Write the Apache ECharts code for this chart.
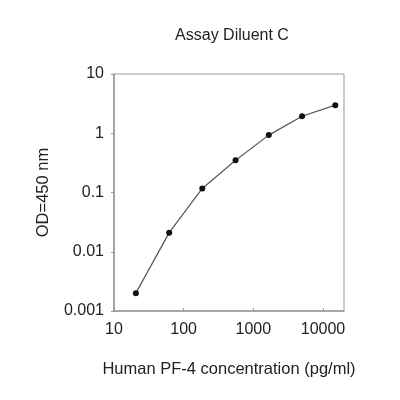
<!DOCTYPE html>
<html><head><meta charset="utf-8">
<script src="https://cdn.jsdelivr.net/npm/echarts@6/dist/echarts.min.js"></script>
<style>html,body{margin:0;padding:0;background:#fff}#c{width:400px;height:400px}</style>
</head><body><div id="c"></div>
<script>
var concentrations = [20.6, 62, 185, 556, 1667, 5000, 15000];
var odValues = [0.002, 0.021, 0.117, 0.35, 0.93, 1.94, 2.98];
var xTickLabels = ['10', '100', '1000', '10000'];
var yTickLabels = ['0.001', '0.01', '0.1', '1', '10'];

var pts = concentrations.map(function (c, i) { return [c, odValues[i]]; });
var font = 'Liberation Sans, Arial, sans-serif';
var chart = echarts.init(document.getElementById('c'));
chart.setOption({
  animation: false,
  backgroundColor: '#fff',
  title: {
    text: 'Assay Diluent C', left: 227, top: 23, textAlign: 'center',
    textStyle: { fontFamily: font, fontSize: 16, fontWeight: 'normal', color: '#222' }
  },
  grid: { left: 114, right: 56, top: 74, bottom: 89, show: true, borderColor: '#999', borderWidth: 1 },
  xAxis: {
    type: 'log', logBase: 10, min: 10, max: 20000,
    name: 'Human PF-4 concentration (pg/ml)', nameLocation: 'middle', nameGap: 50,
    nameTextStyle: { fontFamily: font, fontSize: 16.5, color: '#222' },
    axisLine: { lineStyle: { color: '#999', width: 1.5 } },
    axisTick: { show: true, length: 3, inside: true, lineStyle: { color: '#999' } },
    splitLine: { show: false },
    minorTick: { show: false },
    axisLabel: {
      fontFamily: font, fontSize: 16, color: '#222', margin: 11, showMaxLabel: false,
      formatter: function (v) { var s = String(Math.round(v)); return xTickLabels.indexOf(s) >= 0 ? s : ''; }
    }
  },
  yAxis: {
    type: 'log', logBase: 10, min: 0.001, max: 10,
    name: 'OD=450 nm', nameLocation: 'middle', nameGap: 62, nameRotate: 90,
    nameTextStyle: { fontFamily: font, fontSize: 16.5, color: '#222' },
    axisLine: { lineStyle: { color: '#999', width: 1.5 } },
    axisTick: { show: true, length: 3, lineStyle: { color: '#999' } },
    splitLine: { show: false },
    axisLabel: {
      fontFamily: font, fontSize: 16, color: '#222', margin: 10,
      formatter: function (v) {
        for (var i = 0; i < yTickLabels.length; i++) {
          if (Math.abs(Math.log10(v) - Math.log10(parseFloat(yTickLabels[i]))) < 1e-6) return yTickLabels[i];
        }
        return '';
      }
    }
  },
  series: [{
    type: 'line', data: pts, smooth: false,
    symbol: 'circle', symbolSize: 6,
    lineStyle: { color: '#555', width: 1.2 },
    itemStyle: { color: '#111' }
  }]
});
</script></body></html>
